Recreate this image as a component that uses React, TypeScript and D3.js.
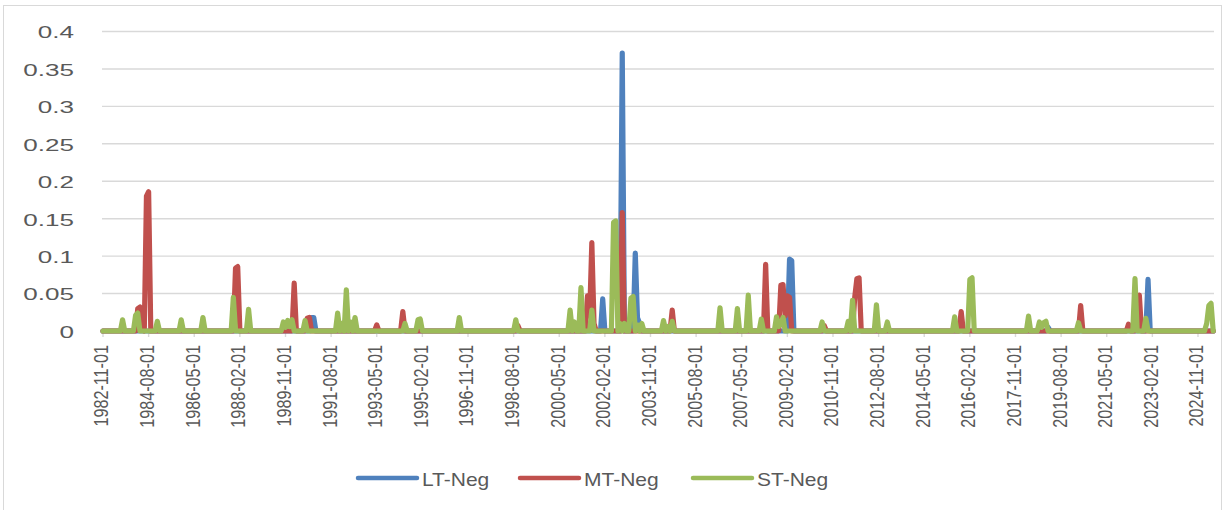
import React from 'react';
import * as d3 from 'd3';

// ---- data (monthly, 1982-11 .. 2025-06; months not listed are 0) ----
const START_MONTH = '1982-11';
const END_MONTH = '2025-06';

const xTickLabels = [
  '1982-11-01', '1984-08-01', '1986-05-01', '1988-02-01', '1989-11-01', '1991-08-01',
  '1993-05-01', '1995-02-01', '1996-11-01', '1998-08-01', '2000-05-01', '2002-02-01',
  '2003-11-01', '2005-08-01', '2007-05-01', '2009-02-01', '2010-11-01', '2012-08-01',
  '2014-05-01', '2016-02-01', '2017-11-01', '2019-08-01', '2021-05-01', '2023-02-01',
  '2024-11-01',
];

const yTickValues = [0, 0.05, 0.1, 0.15, 0.2, 0.25, 0.3, 0.35, 0.4];
const yTickLabels = ['0', '0.05', '0.1', '0.15', '0.2', '0.25', '0.3', '0.35', '0.4'];

const seriesNames = ['LT-Neg', 'MT-Neg', 'ST-Neg'];
const seriesColors = ['#4F81BD', '#C0504D', '#9BBB59'];

const ltNeg: [string, number][] = [
  ['1990-11', 0.018], ['1990-12', 0.018],
  ['2002-01', 0.043],
  ['2002-10', 0.371],
  ['2003-04', 0.104], ['2003-05', 0.018], ['2003-06', 0.01],
  ['2009-03', 0.096], ['2009-04', 0.094],
  ['2019-02', 0.005],
  ['2022-12', 0.069],
];

const mtNeg: [string, number][] = [
  ['1984-03', 0.03], ['1984-04', 0.032], ['1984-05', 0.015],
  ['1984-07', 0.18], ['1984-08', 0.186],
  ['1987-12', 0.084], ['1988-01', 0.086],
  ['1990-03', 0.064],
  ['1990-09', 0.017], ['1990-10', 0.018],
  ['1993-05', 0.008],
  ['1994-05', 0.026],
  ['1998-10', 0.007],
  ['2001-06', 0.047], ['2001-07', 0.02], ['2001-08', 0.118], ['2001-09', 0.01],
  ['2002-10', 0.158],
  ['2004-09', 0.028],
  ['2008-04', 0.089],
  ['2008-11', 0.061], ['2008-12', 0.062], ['2009-01', 0.02], ['2009-02', 0.047],
  ['2009-03', 0.045],
  ['2010-07', 0.007],
  ['2011-09', 0.045], ['2011-10', 0.07], ['2011-11', 0.071],
  ['2015-10', 0.026],
  ['2020-05', 0.034],
  ['2022-03', 0.009], ['2022-07', 0.02], ['2022-08', 0.048],
];

const stNeg: [string, number][] = [
  ['1983-08', 0.015],
  ['1984-02', 0.021], ['1984-03', 0.024],
  ['1984-12', 0.013],
  ['1985-11', 0.015],
  ['1986-09', 0.018],
  ['1987-11', 0.045],
  ['1988-06', 0.029],
  ['1989-10', 0.012], ['1989-11', 0.005], ['1989-12', 0.014], ['1990-01', 0.006], ['1990-02', 0.015],
  ['1990-08', 0.014],
  ['1991-11', 0.024], ['1992-01', 0.01], ['1992-03', 0.055], ['1992-05', 0.012], ['1992-07', 0.018],
  ['1994-06', 0.01],
  ['1994-12', 0.015], ['1995-01', 0.016],
  ['1996-07', 0.018],
  ['1998-09', 0.015],
  ['2000-10', 0.028], ['2000-12', 0.012], ['2001-03', 0.058],
  ['2001-08', 0.028],
  ['2002-06', 0.145], ['2002-07', 0.147], ['2002-09', 0.01], ['2002-11', 0.01],
  ['2003-02', 0.044], ['2003-03', 0.046], ['2003-05', 0.008], ['2003-07', 0.01],
  ['2004-05', 0.014], ['2004-07', 0.006], ['2004-09', 0.013],
  ['2006-07', 0.031],
  ['2007-03', 0.03],
  ['2007-08', 0.048],
  ['2008-02', 0.016],
  ['2008-09', 0.019], ['2008-10', 0.006], ['2008-11', 0.01], ['2008-12', 0.018],
  ['2010-06', 0.012],
  ['2011-06', 0.013], ['2011-08', 0.041],
  ['2012-07', 0.035],
  ['2012-12', 0.012],
  ['2015-07', 0.019],
  ['2016-02', 0.069], ['2016-03', 0.071],
  ['2018-05', 0.02],
  ['2018-10', 0.012], ['2018-11', 0.005], ['2018-12', 0.011], ['2019-01', 0.013],
  ['2020-04', 0.011],
  ['2022-06', 0.07],
  ['2022-11', 0.017],
  ['2025-03', 0.01], ['2025-04', 0.034], ['2025-05', 0.037],
];

// ---- helpers ----
function monthRange(start: string, end: string): string[] {
  const [sy, sm] = start.split('-').map(Number);
  const [ey, em] = end.split('-').map(Number);
  const out: string[] = [];
  let y = sy, m = sm;
  while (y < ey || (y === ey && m <= em)) {
    out.push(`${y}-${String(m).padStart(2, '0')}`);
    m++;
    if (m > 12) { m = 1; y++; }
  }
  return out;
}

const months = monthRange(START_MONTH, END_MONTH);

function fill(sparse: [string, number][]): number[] {
  const map = new Map(sparse);
  return months.map((mo) => map.get(mo) ?? 0);
}

const TEXT = '#595959';
const GRID = '#d9d9d9';
const FONT = '"Liberation Sans", Arial, sans-serif';

export default function App() {
  const W = 1225, H = 510;
  const x = d3.scalePoint<string>().domain(months).range([103, 103 + (months.length - 1) * 2.1726]);
  const y = d3.scaleLinear().domain([0, 0.4]).range([331, 31.5]);

  const series = [fill(ltNeg), fill(mtNeg), fill(stNeg)];
  const line = d3.line<number>()
    .x((_, i) => x(months[i]) as number)
    .y((d) => y(d));

  const legendX = [358, 520, 693];

  return (
    <svg width={W} height={H} style={{ position: 'absolute', left: 0, top: 0, background: '#fff' }}
      fontFamily={FONT}>
      <rect x={3.5} y={5.5} width={1218} height={520} fill="#fff" stroke={GRID} strokeWidth={1} />
      {yTickValues.map((v, i) => (
        <g key={`g${i}`}>
          {i > 0 && (
            <line x1={102} x2={1214} y1={y(v)} y2={y(v)} stroke={GRID} strokeWidth={1.4} />
          )}
          <text transform={`translate(74,${y(v) + 6.9}) scale(1.65,1)`} textAnchor="end"
            fontSize={15.8} fill={TEXT}>{yTickLabels[i]}</text>
        </g>
      ))}
      {xTickLabels.map((lab) => {
        const key = lab.slice(0, 7);
        const tx = x(key) as number;
        return (
          <g key={lab}>
            <line x1={tx} x2={tx} y1={331} y2={337} stroke={GRID} strokeWidth={1.4} />
            <text transform={`translate(${tx - 1.5},345) rotate(-90) scale(1,1.2)`} textAnchor="end"
              y={5.8} fontSize={16.2} fill={TEXT}>{lab}</text>
          </g>
        );
      })}
      {series.map((s, i) => (
        <path key={seriesNames[i]} d={line(s) as string} fill="none" stroke={seriesColors[i]}
          strokeWidth={5.2} strokeLinejoin="round" strokeLinecap="round" />
      ))}
      {seriesNames.map((n, i) => (
        <g key={`l${n}`}>
          <line x1={legendX[i]} x2={legendX[i] + 59} y1={478} y2={478} stroke={seriesColors[i]}
            strokeWidth={4.5} strokeLinecap="round" />
          <text transform={`translate(${legendX[i] + 64},486) scale(1.13,1)`} fontSize={18.6}
            fill={TEXT}>{n}</text>
        </g>
      ))}
    </svg>
  );
}
